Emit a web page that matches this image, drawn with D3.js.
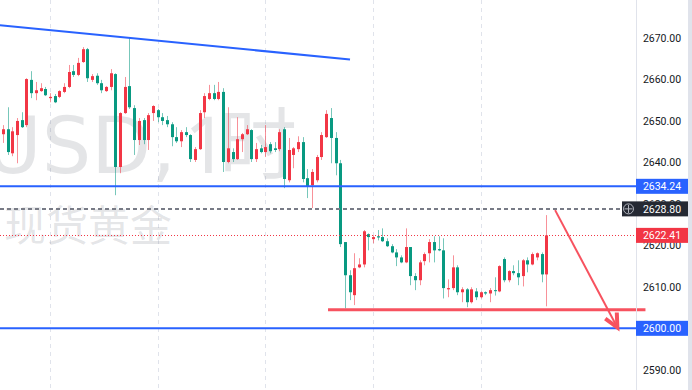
<!DOCTYPE html>
<html>
<head>
<meta charset="utf-8">
<script src="https://cdn.jsdelivr.net/npm/d3@7"></script>
<style>
    body { margin: 0; background: #ffffff; }
    svg { display: block; }
</style>
</head>
<body>
<svg id="chart_svg" width="692" height="390"></svg>
<script>
// hourly candles, left to right
const opens  = [2645.4,2646.8,2648.0,2642.2,2646.6,2650.2,2649.0,2659.9,2656.7,2657.2,2657.7,2655.5,2656.0,2655.8,2657.0,2658.2,2662.0,2661.1,2664.2,2667.3,
                2659.9,2660.9,2659.1,2657.2,2658.2,2661.3,2638.9,2651.9,2658.4,2653.1,2645.4,2650.2,2645.4,2651.9,2652.6,2650.9,2650.2,2649.2,2646.1,2645.1,
                2647.3,2646.6,2640.6,2643.2,2652.1,2655.3,2656.7,2655.3,2657.0,2640.1,2642.5,2640.8,2645.6,2646.8,2647.8,2640.8,2643.4,2642.5,2644.4,2643.4,
                2643.2,2648.0,2635.7,2641.8,2643.2,2644.9,2636.2,2634.5,2635.7,2641.3,2646.1,2650.7,2645.9,2639.8,2620.8,2612.8,2608.0,2614.7,2615.4,2622.7,
                2621.5,2622.2,2622.0,2621.0,2619.8,2618.3,2617.1,2615.9,2619.6,2612.6,2611.6,2616.2,2618.1,2620.8,2619.1,2618.8,2609.4,2609.7,2614.7,2608.7,
                2609.4,2606.3,2608.9,2607.5,2608.7,2608.4,2609.2,2608.9,2616.7,2611.6,2613.8,2613.3,2612.6,2616.4,2615.4,2617.1,2617.9,2613.0]
const highs  = [2647.8,2649.0,2653.3,2648.5,2650.7,2652.1,2660.3,2662.0,2659.4,2659.1,2658.2,2656.7,2656.5,2657.4,2659.1,2663.5,2663.5,2665.2,2667.8,2667.6,
                2661.3,2661.5,2659.9,2658.4,2662.5,2661.5,2652.1,2660.6,2670.0,2653.8,2650.7,2650.7,2651.9,2653.8,2652.9,2651.9,2651.2,2649.7,2648.5,2647.8,
                2648.5,2646.8,2643.7,2652.6,2656.7,2658.7,2658.7,2659.4,2657.9,2653.3,2643.4,2650.9,2647.1,2649.0,2648.0,2644.7,2644.2,2649.0,2644.9,2644.9,
                2648.0,2648.5,2645.9,2643.7,2646.3,2646.1,2638.4,2638.4,2641.8,2647.3,2652.6,2653.1,2647.3,2640.6,2620.8,2614.0,2618.1,2616.9,2623.7,2622.9,
                2622.4,2623.7,2624.1,2621.7,2620.3,2619.1,2617.6,2624.1,2619.6,2613.3,2616.4,2618.3,2621.5,2622.2,2622.2,2621.7,2611.8,2617.6,2615.2,2609.9,
                2609.7,2609.9,2609.7,2608.9,2608.9,2609.7,2612.3,2615.2,2617.1,2614.0,2615.2,2616.4,2616.7,2617.1,2618.3,2618.3,2618.3,2627.3]
const lows   = [2644.2,2644.7,2641.8,2641.5,2639.8,2648.3,2648.5,2655.5,2655.0,2657.0,2656.0,2654.5,2654.3,2655.5,2656.7,2657.9,2660.6,2660.8,2664.0,2659.4,
                2659.4,2658.7,2656.7,2657.0,2657.4,2632.1,2637.4,2651.7,2652.9,2641.8,2644.2,2644.4,2643.0,2650.0,2649.7,2649.0,2648.5,2643.9,2644.7,2643.7,
                2646.1,2640.1,2640.1,2643.0,2650.7,2655.0,2655.0,2655.0,2637.7,2639.8,2640.1,2640.6,2642.5,2646.6,2640.1,2640.1,2642.2,2641.3,2642.2,2642.5,
                2642.7,2633.8,2635.2,2638.6,2642.5,2635.2,2631.4,2629.0,2635.2,2640.6,2645.9,2639.8,2636.9,2619.6,2604.8,2606.8,2605.6,2614.5,2614.7,2618.8,
                2620.5,2621.2,2620.8,2619.6,2618.1,2615.0,2615.7,2615.7,2610.4,2609.2,2610.4,2615.2,2615.9,2615.9,2618.6,2607.2,2607.5,2609.2,2608.0,2606.3,
                2605.1,2606.0,2606.8,2607.2,2608.0,2606.3,2607.9,2608.7,2611.1,2611.1,2612.8,2610.4,2610.1,2613.5,2615.2,2616.4,2611.1,2605.3]
const closes = [2647.1,2648.0,2642.5,2647.5,2650.0,2648.5,2660.1,2656.7,2657.4,2657.9,2656.2,2655.8,2654.5,2657.2,2658.2,2661.8,2661.1,2664.0,2667.3,2660.3,
                2660.8,2659.1,2657.4,2658.2,2661.5,2638.9,2651.9,2658.2,2653.3,2645.4,2650.0,2645.4,2651.4,2653.6,2650.9,2650.0,2649.2,2646.1,2645.1,2647.3,
                2646.6,2640.8,2643.2,2651.9,2656.0,2656.7,2655.3,2657.0,2640.1,2643.4,2640.8,2645.6,2646.8,2648.0,2640.8,2643.2,2642.5,2643.7,2642.7,2643.0,
                2647.3,2636.0,2643.0,2643.4,2644.9,2636.0,2634.3,2637.7,2641.3,2646.6,2651.7,2645.9,2639.8,2620.3,2612.8,2608.7,2614.5,2615.4,2623.4,2622.0,
                2622.0,2621.9,2621.0,2619.8,2618.3,2617.1,2615.9,2619.6,2612.6,2611.6,2615.9,2617.9,2620.8,2618.8,2618.8,2609.7,2609.7,2614.7,2608.7,2609.4,
                2606.3,2609.4,2607.5,2608.7,2608.4,2609.2,2609.0,2615.0,2611.6,2613.8,2613.3,2612.3,2616.4,2615.4,2617.9,2618.1,2613.0,2622.41]

const day_starts = [11, 34, 57, 80, 103]   // candle index of each session start
const price_ticks = [2590, 2600, 2610, 2620, 2630, 2640, 2650, 2660, 2670]

// drawings (candle index, price)
const trend_idx = [0.34, 75.1]
const trend_price = [2673.1, 2664.8]
const blue_levels = [2634.24, 2600.00]
const alert_price = 2628.80
const last_price = 2622.41
const support_idx = [70.4, 138.2]
const support_price = 2604.5
const arrow_idx = [118.9, 132.2]
const arrow_price = [2628.5, 2600.2]

const watermark_symbol = "XAUUSD,"
const watermark_interval = ["1", "时"]
const watermark_name = "现货黄金"

const width = 692
const height = 390
const plot_right = 636
const up_color = "#F23645"
const down_color = "#089981"
const blue = "#2962FF"
const axis_font = "Roboto, 'Liberation Sans', sans-serif"

const candles = opens.map((o, i) => ({ i: i, o: o, h: highs[i], l: lows[i], c: closes[i] }))

const x = d3.scaleLinear().domain([0, 117]).range([-1.6, 546.2])
const y = d3.scaleLinear().domain([2590, 2670]).range([369.8, 38])

const svg = d3.select("#chart_svg")

svg.append("rect").attr("width", width).attr("height", height).attr("fill", "#ffffff")

// session separators
svg.append("g").selectAll("line")
    .data(day_starts)
    .join("line")
        .attr("x1", d => Math.round(x(d)) + 0.5)
        .attr("x2", d => Math.round(x(d)) + 0.5)
        .attr("y1", 0)
        .attr("y2", height)
        .attr("stroke", "#E0E3EB")
        .attr("stroke-dasharray", "4,4")

// watermark
const wm = svg.append("g")
    .attr("fill", "#787B86")
    .attr("fill-opacity", 0.2)
    .attr("font-size", 78)

wm.append("text")
    .attr("x", 176)
    .attr("y", 173)
    .attr("text-anchor", "end")
    .attr("font-family", "'DejaVu Sans', sans-serif")
    .text(watermark_symbol)

const interval_text = wm.append("text")
    .attr("x", 184)
    .attr("y", 173)
    .attr("font-family", "'Noto Sans', 'Noto Sans CJK SC', sans-serif")
interval_text.append("tspan").text(watermark_interval[0])
interval_text.append("tspan")
    .attr("dx", -9.6)
    .attr("font-family", "'Noto Sans CJK SC', sans-serif")
    .text(watermark_interval[1])

svg.append("text")
    .attr("x", 4)
    .attr("y", 241)
    .attr("font-family", "'Noto Sans CJK SC', sans-serif")
    .attr("font-size", 42)
    .attr("fill", "#787B86")
    .attr("fill-opacity", 0.2)
    .text(watermark_name)

// candles
const candle_g = svg.append("g")
candle_g.selectAll("line.wick")
    .data(candles)
    .join("line")
        .attr("class", "wick")
        .attr("x1", d => Math.round(x(d.i)) + 0.5)
        .attr("x2", d => Math.round(x(d.i)) + 0.5)
        .attr("y1", d => y(d.h))
        .attr("y2", d => y(d.l))
        .attr("stroke", d => d.c >= d.o ? up_color : down_color)
        .attr("stroke-opacity", 0.55)
        .attr("stroke-width", 1)

candle_g.selectAll("rect.body")
    .data(candles)
    .join("rect")
        .attr("class", "body")
        .attr("x", d => Math.round(x(d.i)) - 1)
        .attr("width", 3)
        .attr("y", d => y(Math.max(d.o, d.c)))
        .attr("height", d => Math.max(1, Math.abs(y(d.o) - y(d.c))))
        .attr("fill", d => d.c >= d.o ? up_color : down_color)

// horizontal levels
svg.append("line")
    .attr("x1", 0).attr("x2", plot_right)
    .attr("y1", Math.round(y(last_price)) + 0.5).attr("y2", Math.round(y(last_price)) + 0.5)
    .attr("stroke", up_color)
    .attr("stroke-width", 1)
    .attr("stroke-dasharray", "1,2")

svg.append("line")
    .attr("x1", 0).attr("x2", 622)
    .attr("y1", y(alert_price)).attr("y2", y(alert_price))
    .attr("stroke", "#787B86")
    .attr("stroke-width", 2)
    .attr("stroke-dasharray", "4,3")

svg.append("g").selectAll("line")
    .data(blue_levels)
    .join("line")
        .attr("x1", 0).attr("x2", plot_right)
        .attr("y1", d => y(d)).attr("y2", d => y(d))
        .attr("stroke", blue)
        .attr("stroke-width", 2)

// trend line
svg.append("line")
    .attr("x1", x(trend_idx[0])).attr("y1", y(trend_price[0]))
    .attr("x2", x(trend_idx[1])).attr("y2", y(trend_price[1]))
    .attr("stroke", blue)
    .attr("stroke-width", 2)

// support line
svg.append("line")
    .attr("x1", x(support_idx[0])).attr("x2", x(support_idx[1]))
    .attr("y1", y(support_price)).attr("y2", y(support_price))
    .attr("stroke", "#F7525F")
    .attr("stroke-width", 3)

// arrow
const ax0 = x(arrow_idx[0]), ay0 = y(arrow_price[0])
const ax1 = x(arrow_idx[1]), ay1 = y(arrow_price[1])
const ang = Math.atan2(ay1 - ay0, ax1 - ax0)
const head = 15
svg.append("line")
    .attr("x1", ax0).attr("y1", ay0)
    .attr("x2", ax1).attr("y2", ay1)
    .attr("stroke", "#F7525F")
    .attr("stroke-width", 2)
svg.append("path")
    .attr("d", d3.line()([
        [ax1 - head * Math.cos(ang - 0.45), ay1 - head * Math.sin(ang - 0.45)],
        [ax1, ay1],
        [ax1 - head * Math.cos(ang + 0.45), ay1 - head * Math.sin(ang + 0.45)]
    ]))
    .attr("fill", "none")
    .attr("stroke", "#F7525F")
    .attr("stroke-width", 4)
    .attr("stroke-linejoin", "miter")

// price axis
svg.append("rect")
    .attr("x", 688).attr("y", 0).attr("width", 4).attr("height", height)
    .attr("fill", "#E0E3EB")
svg.append("line")
    .attr("x1", plot_right + 0.5).attr("x2", plot_right + 0.5)
    .attr("y1", 0).attr("y2", height)
    .attr("stroke", "#E0E3EB")

const axis = svg.append("g")
    .attr("transform", "translate(662,0)")
    .call(d3.axisRight(y).tickValues(price_ticks).tickSize(0).tickPadding(0).tickFormat(d3.format(".2f")))
axis.select(".domain").remove()
axis.selectAll("text")
    .attr("text-anchor", "middle")
    .attr("font-family", axis_font)
    .attr("font-size", 10.5)
    .attr("fill", "#131722")

function price_label(price, bg, x0) {
    const g = svg.append("g")
    g.append("rect")
        .attr("x", x0).attr("y", y(price) - 7.5)
        .attr("width", 688 - x0).attr("height", 15)
        .attr("fill", bg)
    g.append("text")
        .attr("x", 662).attr("y", y(price))
        .attr("dy", "0.35em")
        .attr("text-anchor", "middle")
        .attr("font-family", axis_font)
        .attr("font-size", 10.5)
        .attr("fill", "#ffffff")
        .text(d3.format(".2f")(price))
    return g
}

blue_levels.forEach(p => price_label(p, blue, plot_right))
price_label(last_price, up_color, plot_right)
price_label(alert_price, "#252933", 622)

// alert icon
svg.append("circle")
    .attr("cx", 628.5).attr("cy", y(alert_price))
    .attr("r", 5)
    .attr("fill", "none")
    .attr("stroke", "#B2B5BE")
svg.append("path")
    .attr("d", d3.line()([[628.5, y(alert_price) - 4], [628.5, y(alert_price) + 4]]) + d3.line()([[624.5, y(alert_price)], [632.5, y(alert_price)]]))
    .attr("stroke", "#B2B5BE")
</script>
</body>
</html>
